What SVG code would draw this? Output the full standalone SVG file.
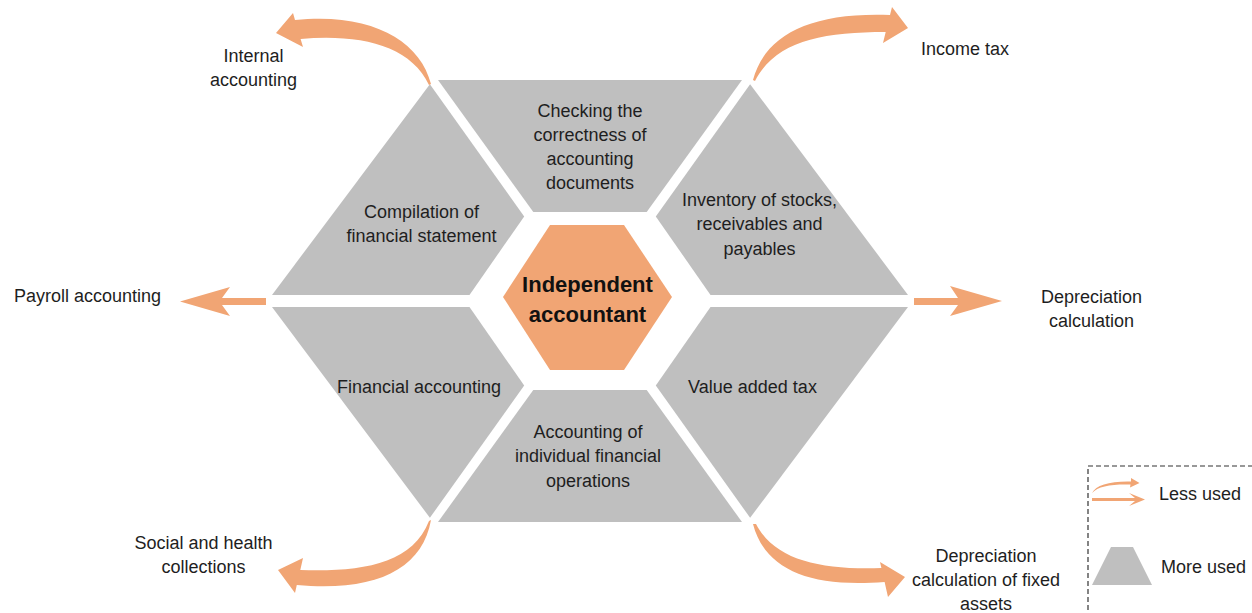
<svg xmlns="http://www.w3.org/2000/svg" width="1252" height="613" viewBox="0 0 1252 613">
  <style>
    .piece { fill: #BFBFBF; }
    .core { fill: #F1A574; }
    .arrow { fill: #F1A574; }
    .lbl { font-family: "Liberation Sans", Arial, sans-serif; font-size: 18px; fill: #1E1E1E; text-anchor: middle; }
    .lbl-l { font-family: "Liberation Sans", Arial, sans-serif; font-size: 18px; fill: #1E1E1E; text-anchor: start; }
    .core-lbl { font-family: "Liberation Sans", Arial, sans-serif; font-size: 22px; font-weight: bold; fill: #111; text-anchor: middle; }
    .legend-box { fill: none; stroke: #333; stroke-width: 1.2; stroke-dasharray: 5 3; }
  </style>
  <rect width="1252" height="613" fill="#FFFFFF"/>

  <!-- ring of service segments around the centre -->
  <g id="node-compilation">
    <polygon class="piece" points="272,295 429.9,84.2 524.2,216.4 469.5,295"/>
    <text class="lbl" x="421.5" y="218">Compilation of</text>
    <text class="lbl" x="421.5" y="242">financial statement</text>
  </g>
  <g id="node-checking">
    <polygon class="piece" points="438,80 742,80 646.7,212 533.3,212"/>
    <text class="lbl" x="590" y="117">Checking the</text>
    <text class="lbl" x="590" y="141">correctness of</text>
    <text class="lbl" x="590" y="165">accounting</text>
    <text class="lbl" x="590" y="189">documents</text>
  </g>
  <g id="node-inventory">
    <polygon class="piece" points="908,295 750.1,84.2 655.8,216.4 710.5,295"/>
    <text class="lbl" x="759.5" y="206">Inventory of stocks,</text>
    <text class="lbl" x="759.5" y="230">receivables and</text>
    <text class="lbl" x="759.5" y="255">payables</text>
  </g>
  <g id="node-financial-accounting">
    <polygon class="piece" points="272,307 429.9,517.8 524.2,385.6 469.5,307"/>
    <text class="lbl" x="419" y="393">Financial accounting</text>
  </g>
  <g id="node-operations">
    <polygon class="piece" points="438,522 742,522 646.7,390 533.3,390"/>
    <text class="lbl" x="588" y="438">Accounting of</text>
    <text class="lbl" x="588" y="462">individual financial</text>
    <text class="lbl" x="588" y="487">operations</text>
  </g>
  <g id="node-vat">
    <polygon class="piece" points="908,307 750.1,517.8 655.8,385.6 710.5,307"/>
    <text class="lbl" x="752.5" y="393">Value added tax</text>
  </g>

  <!-- centre -->
  <g id="node-independent-accountant">
    <polygon class="core" points="503,297 550,225 624,225 672,297 624,370 550,370"/>
    <text class="core-lbl" x="587.5" y="292">Independent</text>
    <text class="core-lbl" x="587.5" y="322">accountant</text>
  </g>

  <!-- outgoing arrows to the less used services -->
  <g id="connectors">
    <path class="arrow" d="M431,84 C420,40 370,12 295,20 L293,13 L276,33 L303,47 L300.6,39 C360,34 410,45 429,85 Z"/>
    <path class="arrow" d="M753,80 C765,35 810,12 890,15 L892,7 L908,28 L883,43 L885.7,32 C820,32 775,42 755,81 Z"/>
    <path class="arrow" d="M431,520 C422,570 375,592 296.8,585 L295,593 L278,570 L303,558 L300.3,570 C360,572 412,565 429,521 Z"/>
    <path class="arrow" d="M753,524 C765,570 810,588 884.6,582 L888,597 L905,577 L880,562 L881.4,568 C820,570 775,560 756,524 Z"/>
    <polygon class="arrow" points="180,301.5 230,287 222,298 266,298 266,305 222,305 230,316"/>
    <polygon class="arrow" points="914,298 958,298 950,286 1002,301 950,316 958,305 914,305"/>
  </g>

  <!-- outer labels -->
  <g id="node-internal-accounting">
    <text class="lbl" x="253.5" y="62">Internal</text>
    <text class="lbl" x="253.5" y="86">accounting</text>
  </g>
  <g id="node-income-tax">
    <text class="lbl-l" x="921" y="55">Income tax</text>
  </g>
  <g id="node-payroll">
    <text class="lbl-l" x="14" y="302">Payroll accounting</text>
  </g>
  <g id="node-depreciation">
    <text class="lbl" x="1091.5" y="303">Depreciation</text>
    <text class="lbl" x="1091.5" y="327">calculation</text>
  </g>
  <g id="node-social-health">
    <text class="lbl" x="203.5" y="549">Social and health</text>
    <text class="lbl" x="203.5" y="573">collections</text>
  </g>
  <g id="node-depreciation-fixed">
    <text class="lbl" x="986" y="562">Depreciation</text>
    <text class="lbl" x="986" y="586">calculation of fixed</text>
    <text class="lbl" x="986" y="610">assets</text>
  </g>

  <!-- legend -->
  <g id="legend">
    <rect class="legend-box" x="1088" y="466" width="200" height="200"/>
    <path class="arrow" d="M1092,493 C1096,485 1110,481 1131,481.5 L1131,478 L1139.5,483 L1130,487.5 L1130.5,484.5 C1112,484 1098,486 1092,493 Z"/>
    <polygon class="arrow" points="1092,498 1135,498 1129,493 1145,499.5 1129,506 1135,501 1092,501"/>
    <text class="lbl-l" x="1159" y="500">Less used</text>
    <polygon class="piece" points="1092,585 1152,585 1133,547 1111,547"/>
    <text class="lbl-l" x="1161" y="573">More used</text>
  </g>
</svg>
